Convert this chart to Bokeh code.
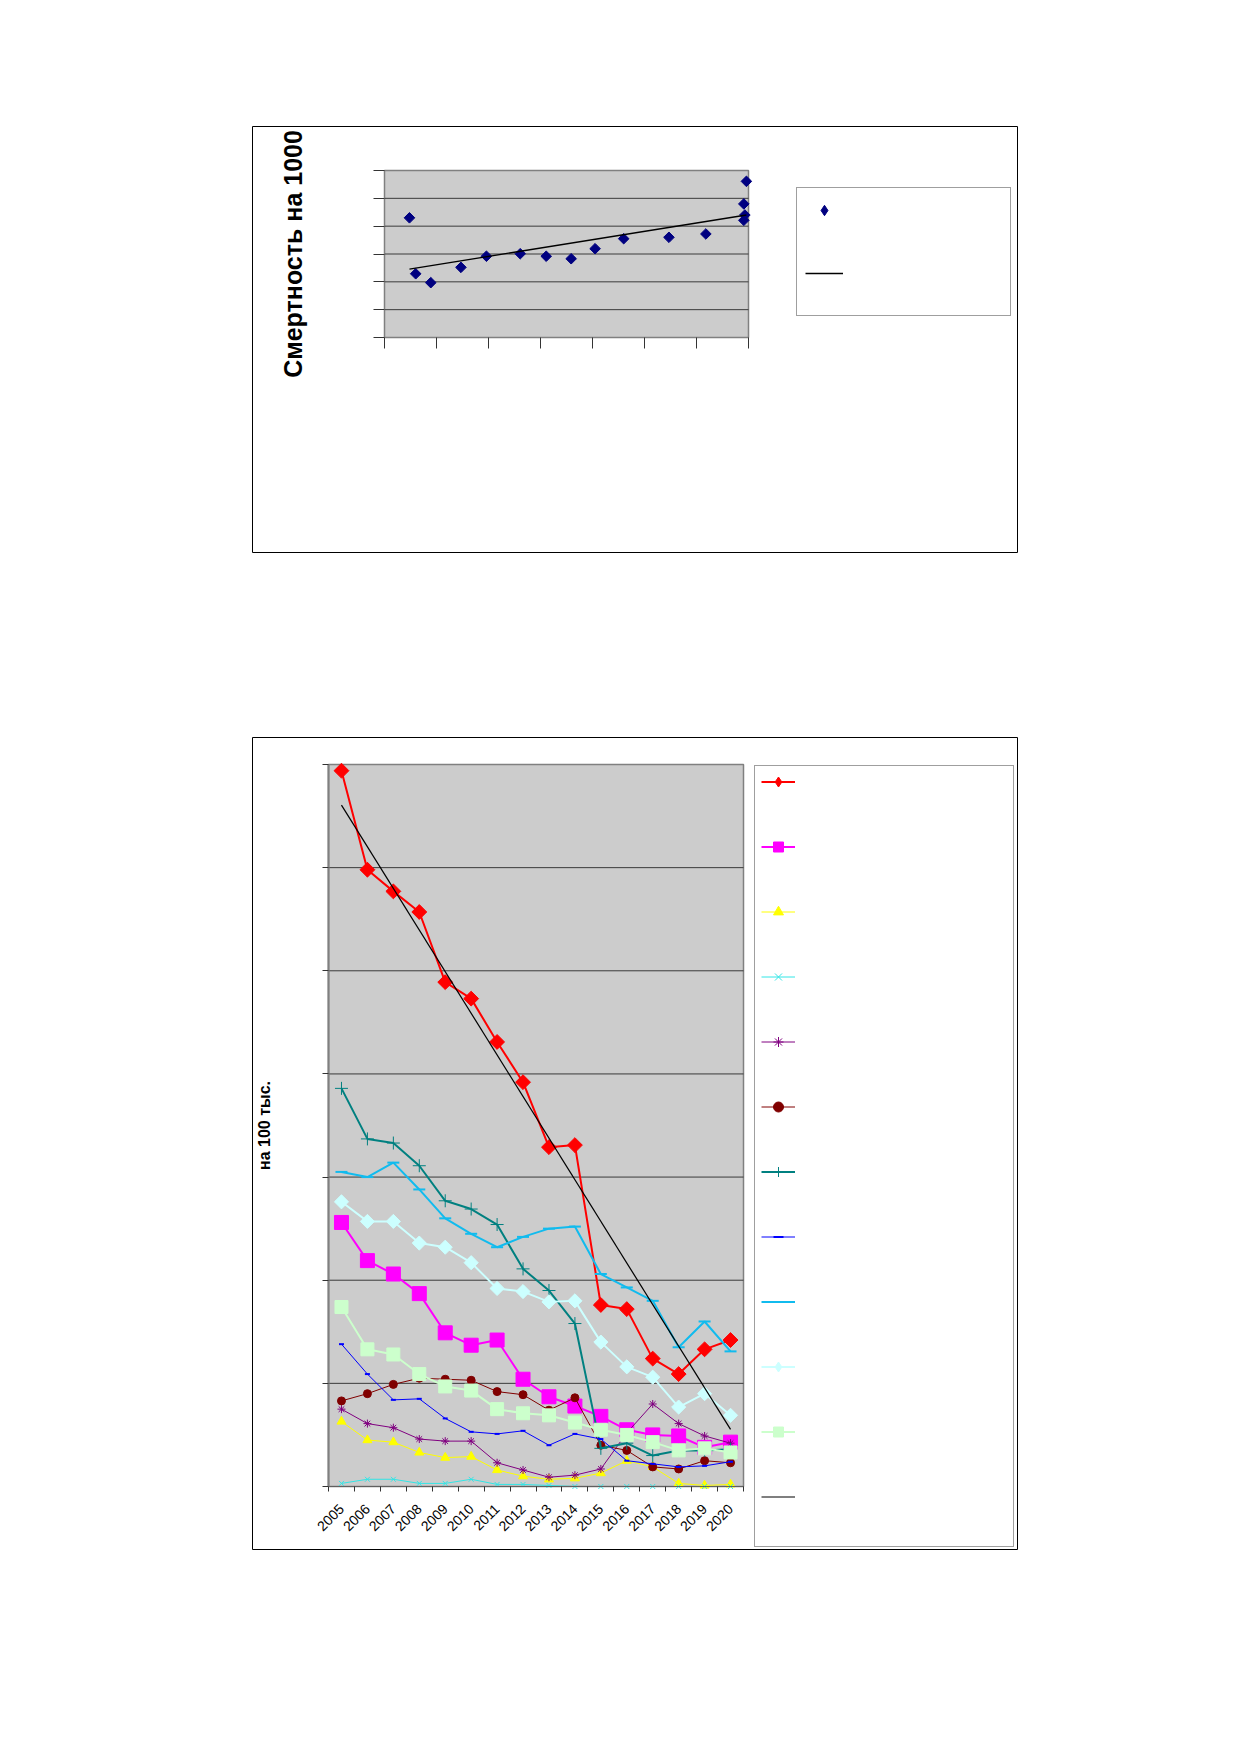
import math
import numpy as np
from bokeh.plotting import figure
from bokeh.layouts import column, row
from bokeh.models import Legend, LegendItem, FixedTicker, Range1d, Spacer
from bokeh.embed import file_html
from bokeh.resources import INLINE

FONT = "Liberation Sans"

# ---------------- Chart 1 data (scatter + linear trend) ----------------
scatter_x = [0.48, 0.60, 0.89, 1.47, 1.96, 2.61, 3.11, 3.59, 4.05, 4.60, 5.47, 6.18, 6.91, 6.93, 6.91, 6.96]
scatter_y = [4.30, 2.29, 1.97, 2.52, 2.92, 3.01, 2.92, 2.83, 3.19, 3.55, 3.60, 3.72, 4.21, 4.40, 4.80, 5.61]
x1_ticks = [0, 1, 2, 3, 4, 5, 6, 7]
y1_ticks = [0, 1, 2, 3, 4, 5, 6]
y1_label = "Смертность на 1000"

# ---------------- Chart 2 data (16 years, 11 series + trend) ----------------
years = ["2005", "2006", "2007", "2008", "2009", "2010", "2011", "2012",
         "2013", "2014", "2015", "2016", "2017", "2018", "2019", "2020"]
s_red = [69.4, 59.8, 57.7, 55.7, 48.9, 47.3, 43.1, 39.2, 32.9, 33.1, 17.6, 17.2, 12.4, 10.9, 13.3, 14.2]
s_magenta = [25.6, 21.9, 20.6, 18.7, 14.9, 13.7, 14.2, 10.4, 8.7, 7.8, 6.8, 5.5, 5.0, 4.9, 3.8, 4.3]
s_yellow = [6.3, 4.5, 4.3, 3.3, 2.8, 2.9, 1.6, 1.0, 0.7, 0.8, 1.3, 2.5, 1.9, 0.3, 0.1, 0.2]
s_cyan = [0.3, 0.7, 0.7, 0.3, 0.3, 0.7, 0.2, 0.2, 0.1, 0.0, 0.0, 0.0, 0.0, 0.0, 0.0, 0.0]
s_purple = [7.5, 6.1, 5.7, 4.6, 4.4, 4.4, 2.3, 1.6, 0.9, 1.1, 1.7, 5.2, 8.0, 6.1, 4.9, 4.2]
s_darkred = [8.3, 9.0, 9.9, 10.5, 10.4, 10.3, 9.2, 8.9, 7.4, 8.6, 4.0, 3.5, 1.9, 1.7, 2.5, 2.3]
s_teal = [38.6, 33.7, 33.3, 31.1, 27.7, 26.9, 25.4, 21.1, 19.0, 15.8, 3.7, 4.2, 3.0, 3.5, 3.5, 3.6]
s_blue = [13.8, 10.9, 8.4, 8.5, 6.6, 5.3, 5.1, 5.4, 4.0, 5.1, 4.6, 2.5, 2.2, 1.9, 2.0, 2.4]
s_skyblue = [30.5, 30.0, 31.4, 28.8, 26.0, 24.5, 23.2, 24.2, 25.0, 25.2, 20.6, 19.3, 18.0, 13.5, 16.0, 13.1]
s_palecyan = [27.6, 25.7, 25.7, 23.6, 23.2, 21.7, 19.2, 18.9, 17.9, 18.0, 14.0, 11.6, 10.6, 7.7, 9.0, 6.9]
s_palegreen = [17.4, 13.3, 12.8, 10.9, 9.7, 9.3, 7.5, 7.1, 6.9, 6.2, 5.5, 5.0, 4.3, 3.5, 3.7, 3.3]
y2_ticks = [0, 10, 20, 30, 40, 50, 60, 70]
y2_label = "на 100 тыс."

# ---------------- page geometry (px) ----------------
BL, BR, BT, BB = 120, 5, 5, 60          # canvas borders around each chart box (frame)
BOX_L, BOX_R = 252, 1017                # chart boxes, page x
C1_TOP, C1_BOT = 126, 552               # chart 1 box, page y
C2_TOP, C2_BOT = 737, 1549              # chart 2 box, page y
P1 = dict(l=384, r=748, t=170, b=337)   # chart 1 plot area
P2 = dict(l=328, r=743, t=764, b=1486)  # chart 2 plot area


def extended_range(d0, d1, p_lo, p_hi, f_lo, f_hi):
    """Range whose [d0, d1] occupies pixels [p_lo, p_hi] inside a frame [f_lo, f_hi]."""
    k = (d1 - d0) / (p_hi - p_lo)
    return Range1d(d0 - (p_lo - f_lo) * k, d1 + (f_hi - p_hi) * k)


def base_figure(x_rng, y_rng, box_h):
    p = figure(width=BL + (BOX_R - BOX_L) + BR, height=BT + box_h + BB,
               output_backend="svg", toolbar_location=None,
               x_range=x_rng, y_range=y_rng,
               min_border_left=BL, min_border_right=BR,
               min_border_top=BT, min_border_bottom=BB)
    p.background_fill_color = "white"
    p.border_fill_color = "white"
    p.outline_line_color = "black"
    p.outline_line_width = 1
    p.xgrid.visible = False
    p.ygrid.visible = False
    return p


def box_legend(p, dummy, vx, vy, w, h):
    lg = Legend(items=[LegendItem(label=" ", renderers=[dummy])],
                location=(vx, vy), padding=0, margin=0, spacing=0,
                glyph_width=w, glyph_height=h, label_width=0, label_height=0,
                label_standoff=0, label_text_font_size="1px",
                border_line_color="#404040", border_line_width=1,
                background_fill_color="white", background_fill_alpha=1)
    p.add_layout(lg, "center")


# ======================= Chart 1 =======================
xr1 = extended_range(x1_ticks[0], x1_ticks[-1], P1["l"], P1["r"], BOX_L, BOX_R)
yr1 = extended_range(y1_ticks[0], y1_ticks[-1], C1_BOT - P1["b"], C1_BOT - P1["t"], 0, C1_BOT - C1_TOP)
p1 = base_figure(xr1, yr1, C1_BOT - C1_TOP)

p1.quad(left=x1_ticks[0], right=x1_ticks[-1], bottom=y1_ticks[0], top=y1_ticks[-1],
        fill_color="#CCCCCC", line_color="#808080", line_width=1.5)
p1.segment(x0=[x1_ticks[0]] * (len(y1_ticks) - 2), x1=[x1_ticks[-1]] * (len(y1_ticks) - 2),
           y0=y1_ticks[1:-1], y1=y1_ticks[1:-1], line_color="#3a3a3a", line_width=1)

xa1, ya1 = p1.xaxis[0], p1.yaxis[0]
xa1.fixed_location = y1_ticks[0]
xa1.bounds = (x1_ticks[0], x1_ticks[-1])
ya1.fixed_location = x1_ticks[0]
ya1.bounds = (y1_ticks[0], y1_ticks[-1])
for ax, ticks in ((xa1, x1_ticks), (ya1, y1_ticks)):
    ax.ticker = FixedTicker(ticks=ticks, minor_ticks=[])
    ax.major_label_overrides = {t: "" for t in ticks}
    ax.major_tick_in = 0
    ax.major_tick_out = 11
    ax.major_tick_line_color = "#333333"
    ax.axis_line_color = "#808080"
    ax.major_label_standoff = 0

ya1.axis_label = y1_label
ya1.axis_label_text_font = FONT
ya1.axis_label_text_font_style = "bold"
ya1.axis_label_text_font_size = "25px"
ya1.axis_label_text_color = "black"
ya1.axis_label_standoff = 67

dummy1 = p1.line(x=[], y=[], line_alpha=0)
p1.scatter(scatter_x, scatter_y, marker="square", angle=math.pi / 4, size=7.5,
           fill_color="#000080", line_color="#000080")
# legend-only twin (hidden in the plot, drawn as a diamond in the legend)
leg_dia1 = p1.scatter(scatter_x, scatter_y, marker="diamond",
                      fill_color="#000080", line_color="#000080", visible=False)
coef1 = np.polyfit(scatter_x, scatter_y, 1)
tx1 = [min(scatter_x), max(scatter_x)]
tl1 = p1.line(tx1, [coef1[0] * x + coef1[1] for x in tx1], line_color="black", line_width=1.3)

# legend box: page x 796..1009, y 189..316
box_legend(p1, dummy1, 796 - BOX_L, C1_BOT - 316, 213, 127)
lg1 = Legend(items=[LegendItem(label=" ", renderers=[leg_dia1]), LegendItem(label=" ", renderers=[tl1])],
             location=(805 - BOX_L, C1_BOT - 286), padding=0, margin=0, spacing=37,
             glyph_width=38, glyph_height=26, label_height=26, label_width=0,
             label_standoff=0, label_text_font_size="10px",
             border_line_alpha=0, background_fill_alpha=0, inactive_fill_alpha=0)
p1.add_layout(lg1, "center")

# ======================= Chart 2 =======================
n = len(years)
x_edges = list(range(n + 1))
xc = [i + 0.5 for i in range(n)]

xr2 = extended_range(x_edges[0], x_edges[-1], P2["l"], P2["r"], BOX_L, BOX_R)
yr2 = extended_range(y2_ticks[0], y2_ticks[-1], C2_BOT - P2["b"], C2_BOT - P2["t"], 0, C2_BOT - C2_TOP)
p2 = base_figure(xr2, yr2, C2_BOT - C2_TOP)

p2.quad(left=x_edges[0], right=x_edges[-1], bottom=y2_ticks[0], top=y2_ticks[-1],
        fill_color="#CCCCCC", line_color="#808080", line_width=1.5)
p2.segment(x0=[x_edges[0]] * (len(y2_ticks) - 2), x1=[x_edges[-1]] * (len(y2_ticks) - 2),
           y0=y2_ticks[1:-1], y1=y2_ticks[1:-1], line_color="#3a3a3a", line_width=1)

xa = p2.xaxis[0]
xa.fixed_location = y2_ticks[0]
xa.bounds = (x_edges[0], x_edges[-1])
xa.ticker = FixedTicker(ticks=xc, minor_ticks=x_edges)
xa.major_label_overrides = {x: y for x, y in zip(xc, years)}
xa.major_label_orientation = math.pi / 4
xa.major_label_text_font = FONT
xa.major_label_text_font_size = "14px"
xa.major_label_text_color = "black"
xa.major_label_standoff = 15
xa.major_tick_line_color = None
xa.major_tick_in = 0
xa.major_tick_out = 5
xa.minor_tick_in = 0
xa.minor_tick_out = 5
xa.minor_tick_line_color = "#333333"
xa.axis_line_color = "#606060"

ya = p2.yaxis[0]
ya.fixed_location = x_edges[0]
ya.bounds = (y2_ticks[0], y2_ticks[-1])
ya.ticker = FixedTicker(ticks=y2_ticks, minor_ticks=[])
ya.major_label_overrides = {t: "" for t in y2_ticks}
ya.major_label_standoff = 0
ya.major_tick_in = 0
ya.major_tick_out = 6
ya.major_tick_line_color = "#333333"
ya.axis_line_color = "#808080"
ya.axis_line_width = 2
ya.axis_label = y2_label
ya.axis_label_text_font = FONT
ya.axis_label_text_font_style = "bold"
ya.axis_label_text_font_size = "16px"
ya.axis_label_text_color = "black"
ya.axis_label_standoff = 50

dummy2 = p2.line(x=[], y=[], line_alpha=0)

# (values, colour, line width, plot marker, legend marker)
series = [
    (s_red, "#FF0000", 2, dict(marker="square", angle=math.pi / 4, size=10.5), "diamond"),
    (s_magenta, "#FF00FF", 2, dict(marker="square", size=14), "square"),
    (s_yellow, "#FFFF00", 1, dict(marker="triangle", size=9), "triangle"),
    (s_cyan, "#33E6E6", 1, dict(marker="x", size=7), "x"),
    (s_purple, "#800080", 1, dict(marker="asterisk", size=8), "asterisk"),
    (s_darkred, "#800000", 1, dict(marker="circle", size=8), "circle"),
    (s_teal, "#008080", 2, dict(marker="cross", size=13), "cross"),
    (s_blue, "#0000FF", 1, dict(marker="dash", size=5), "dash"),
    (s_skyblue, "#11BBEE", 2, dict(marker="dash", size=12), "dash"),
    (s_palecyan, "#CCFFFF", 2, dict(marker="square", angle=math.pi / 4, size=10), "diamond"),
    (s_palegreen, "#CCFFCC", 2, dict(marker="square", size=13), "square"),
]

items = []
for vals, col, lw, mk, lmk in series:
    lr = p2.line(xc, vals, line_color=col, line_width=lw)
    mline = 2 if mk["marker"] == "dash" else 1
    p2.scatter(xc, vals, fill_color=col, line_color=col, line_width=mline, **mk)
    # legend-only twin: hidden in the plot, drawn in the legend
    lgr = p2.scatter(xc, vals, marker=lmk, fill_color=col, line_color=col,
                     line_width=mline, visible=False)
    items.append(LegendItem(label=" ", renderers=[lr, lgr]))

coef2 = np.polyfit(range(n), s_red, 1)
tl2 = p2.line([xc[0], xc[-1]], [coef2[1], coef2[0] * (n - 1) + coef2[1]],
              line_color="black", line_width=1.2)
items.append(LegendItem(label=" ", renderers=[tl2]))

# legend box: page x 754..1012, y 767..1547
box_legend(p2, dummy2, 754 - BOX_L, C2_BOT - 1547, 258, 780)
lg2 = Legend(items=items, location=(761 - BOX_L, C2_BOT - 1509), padding=0, margin=0, spacing=40,
             glyph_width=34, glyph_height=25, label_height=25, label_width=0,
             label_standoff=0, label_text_font_size="10px",
             border_line_alpha=0, background_fill_alpha=0, inactive_fill_alpha=0)
p2.add_layout(lg2, "center")

layout = row(
    Spacer(width=BOX_L - BL),
    column(Spacer(height=C1_TOP - BT), p1,
           Spacer(height=(C2_TOP - BT) - (C1_TOP - BT) - p1.height), p2, spacing=0),
    spacing=0,
)
open("out.html", "w").write(file_html(layout, INLINE))
